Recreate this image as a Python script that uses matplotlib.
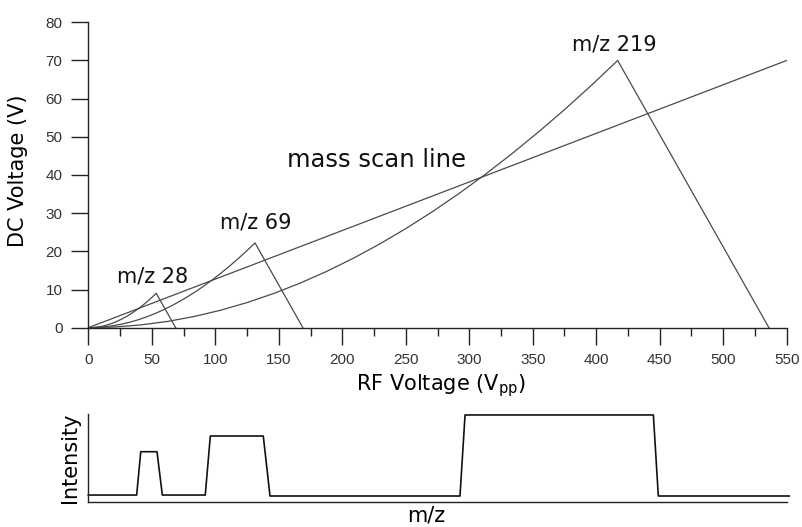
import matplotlib
matplotlib.use("Agg")
import matplotlib.pyplot as plt
from matplotlib.ticker import MultipleLocator

# ---- data ----
scan_rf = [0, 550]
scan_dc = [0, 70]

mass_labels = ["m/z 28", "m/z 69", "m/z 219"]
apex_rf = [53.5, 131.3, 416.9]
apex_dc = [9.0, 22.2, 70.0]
cutoff_rf = [68.8, 169.0, 536.0]

# normalised shape of the left (curved) edge of a stability region
edge_rf_frac = [0.00, 0.05, 0.10, 0.15, 0.20, 0.25, 0.30, 0.35, 0.40, 0.45, 0.50,
                0.55, 0.60, 0.65, 0.70, 0.75, 0.80, 0.85, 0.90, 0.95, 1.00]
edge_dc_frac = [0.0, 0.0026, 0.0105, 0.0236, 0.0419, 0.0654, 0.0941, 0.1279,
                0.1667, 0.2105, 0.2592, 0.3128, 0.3711, 0.4342, 0.5018, 0.5740,
                0.6507, 0.7317, 0.8169, 0.9064, 1.0]

label_x = [50.9, 131.7, 414.4]
label_y = [11.8, 26.0, 72.6]

# lower panel: intensity trace (x on the same scale as the RF axis)
trace_x = [0, 38.1, 41.3, 54.1, 58.3, 92.1, 96.1, 137.8, 143.1,
           292.7, 296.7, 445.0, 448.9, 552]
trace_y = [0.076, 0.076, 0.570, 0.570, 0.076, 0.076, 0.749, 0.749, 0.065,
           0.065, 0.989, 0.989, 0.065, 0.065]

x_ticks = list(range(0, 551, 50))
y_ticks = list(range(0, 81, 10))

# ---- figure ----
W, H = 803, 527
fig = plt.figure(figsize=(W / 100, H / 100), dpi=100)

ax = fig.add_axes([88.3 / W, (H - 327.7) / H, 698.4 / W, 305.4 / H])
ax2 = fig.add_axes([88.3 / W, (H - 501.7) / H, 698.4 / W, 87.7 / H])

line_col = "#4a4a4a"
ax.plot(scan_rf, scan_dc, color=line_col, lw=0.9)
for i in range(len(apex_rf)):
    rf = [f * apex_rf[i] for f in edge_rf_frac] + [cutoff_rf[i]]
    dc = [f * apex_dc[i] for f in edge_dc_frac] + [0.0]
    ax.plot(rf, dc, color=line_col, lw=0.9)
    ax.text(label_x[i], label_y[i], mass_labels[i], ha="center", va="baseline",
            fontsize=15, family="DejaVu Sans", color="#111111")

ax.text(226.6, 42.0, "mass scan line", ha="center", va="baseline",
        fontsize=17.5, family="DejaVu Sans", color="#111111")

ax.set_xlim(0, 550)
ax.set_ylim(0, 80)
ax.set_xticks(x_ticks)
ax.set_yticks(y_ticks)
ax.xaxis.set_minor_locator(MultipleLocator(25))
for s in ("top", "right"):
    ax.spines[s].set_visible(False)
for s in ("left", "bottom"):
    ax.spines[s].set_color("#222222")
    ax.spines[s].set_linewidth(1.0)
ax.tick_params(which="major", direction="out", length=12, width=1.0,
               color="#222222", labelcolor="#333333", labelsize=11, pad=6.5)
ax.tick_params(which="minor", direction="out", length=6, width=1.0,
               color="#222222")
for lbl in ax.get_xticklabels() + ax.get_yticklabels():
    lbl.set_family("Liberation Sans")

ax.set_xlabel(r"RF Voltage (V$_{\mathrm{pp}}$)", fontsize=15, family="DejaVu Sans",
              va="baseline", ha="center")
ax.xaxis.set_label_coords((440.8 - 88.3) / 698.4, (327.7 - 390.0) / 305.4)
ax.set_ylabel("DC Voltage (V)", fontsize=15, family="DejaVu Sans",
              va="center", ha="center")
ax.yaxis.set_label_coords((18.0 - 88.3) / 698.4, (327.7 - 170.8) / 305.4)

# lower panel
ax2.plot(trace_x, trace_y, color="#111111", lw=1.2, clip_on=False)
ax2.set_xlim(0, 550)
ax2.set_ylim(0, 1)
ax2.set_xticks([])
ax2.set_yticks([])
for s in ("top", "right"):
    ax2.spines[s].set_visible(False)
for s in ("left", "bottom"):
    ax2.spines[s].set_color("#222222")
    ax2.spines[s].set_linewidth(1.0)
ax2.set_ylabel("Intensity", fontsize=15, family="DejaVu Sans", va="center", ha="center")
ax2.yaxis.set_label_coords((70.0 - 88.3) / 698.4, (501.7 - 458.0) / 87.7)
ax2.set_xlabel("m/z", fontsize=15, family="DejaVu Sans", va="baseline", ha="center")
ax2.xaxis.set_label_coords((426.0 - 88.3) / 698.4, (501.7 - 521.7) / 87.7)

fig.savefig("out.png", dpi=100)
